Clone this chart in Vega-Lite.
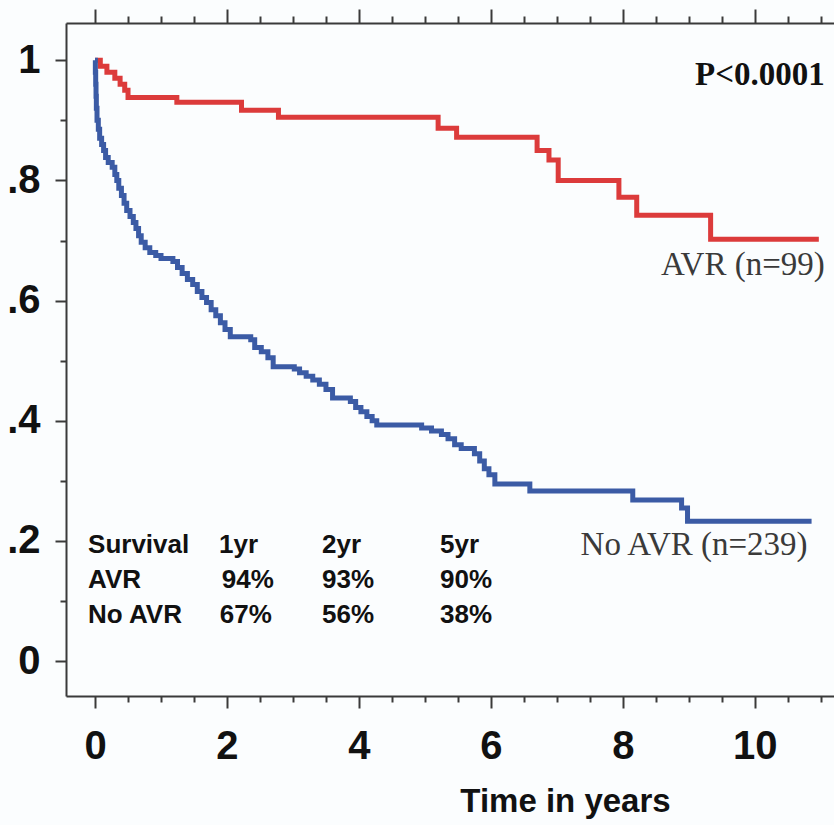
{
  "$schema": "https://vega.github.io/schema/vega-lite/v6.json",
  "width": 768,
  "height": 673,
  "autosize": {"type": "none"},
  "padding": {"left": 66, "top": 23, "right": 0, "bottom": 129},
  "background": "#fbfdfe",
  "config": {
    "view": {"stroke": null},
    "axis": {
      "grid": false,
      "domainColor": "#3a3a3a",
      "domainWidth": 2,
      "tickColor": "#3a3a3a",
      "tickWidth": 2,
      "labelFont": "Liberation Sans Narrow, Arial Narrow, Liberation Sans, sans-serif",
      "labelFontWeight": "bold",
      "labelColor": "#111111",
      "titleFont": "Liberation Sans Narrow, Arial Narrow, Liberation Sans, sans-serif",
      "titleFontWeight": "bold",
      "titleColor": "#111111"
    }
  },
  "datasets": {
    "curves": [
      {"group": "AVR", "t": 0, "s": 1.0},
      {"group": "AVR", "t": 0.08, "s": 0.99},
      {"group": "AVR", "t": 0.18, "s": 0.98},
      {"group": "AVR", "t": 0.3, "s": 0.97},
      {"group": "AVR", "t": 0.38, "s": 0.96},
      {"group": "AVR", "t": 0.45, "s": 0.95},
      {"group": "AVR", "t": 0.5, "s": 0.938},
      {"group": "AVR", "t": 1.24, "s": 0.93},
      {"group": "AVR", "t": 2.22, "s": 0.917},
      {"group": "AVR", "t": 2.78, "s": 0.905},
      {"group": "AVR", "t": 5.2, "s": 0.887},
      {"group": "AVR", "t": 5.48, "s": 0.872},
      {"group": "AVR", "t": 6.7, "s": 0.85},
      {"group": "AVR", "t": 6.88, "s": 0.834},
      {"group": "AVR", "t": 7.02, "s": 0.8},
      {"group": "AVR", "t": 7.94, "s": 0.772},
      {"group": "AVR", "t": 8.21, "s": 0.742},
      {"group": "AVR", "t": 9.33, "s": 0.702},
      {"group": "AVR", "t": 10.97, "s": 0.702},
      {"group": "No AVR", "t": 0, "s": 1.0},
      {"group": "No AVR", "t": 0.005, "s": 0.98},
      {"group": "No AVR", "t": 0.01, "s": 0.96},
      {"group": "No AVR", "t": 0.015, "s": 0.94},
      {"group": "No AVR", "t": 0.02, "s": 0.92},
      {"group": "No AVR", "t": 0.03, "s": 0.9},
      {"group": "No AVR", "t": 0.05, "s": 0.885},
      {"group": "No AVR", "t": 0.07, "s": 0.87},
      {"group": "No AVR", "t": 0.1, "s": 0.86},
      {"group": "No AVR", "t": 0.13, "s": 0.85},
      {"group": "No AVR", "t": 0.16, "s": 0.838},
      {"group": "No AVR", "t": 0.2, "s": 0.83},
      {"group": "No AVR", "t": 0.26, "s": 0.822},
      {"group": "No AVR", "t": 0.3, "s": 0.81},
      {"group": "No AVR", "t": 0.33, "s": 0.8},
      {"group": "No AVR", "t": 0.36, "s": 0.787},
      {"group": "No AVR", "t": 0.4, "s": 0.775},
      {"group": "No AVR", "t": 0.44, "s": 0.762},
      {"group": "No AVR", "t": 0.48, "s": 0.75},
      {"group": "No AVR", "t": 0.53, "s": 0.74},
      {"group": "No AVR", "t": 0.58, "s": 0.73},
      {"group": "No AVR", "t": 0.62, "s": 0.72},
      {"group": "No AVR", "t": 0.66, "s": 0.708},
      {"group": "No AVR", "t": 0.7, "s": 0.697},
      {"group": "No AVR", "t": 0.76, "s": 0.688},
      {"group": "No AVR", "t": 0.83, "s": 0.68},
      {"group": "No AVR", "t": 0.92, "s": 0.675},
      {"group": "No AVR", "t": 1.0, "s": 0.67},
      {"group": "No AVR", "t": 1.18, "s": 0.665},
      {"group": "No AVR", "t": 1.25, "s": 0.655},
      {"group": "No AVR", "t": 1.32, "s": 0.645},
      {"group": "No AVR", "t": 1.4, "s": 0.635},
      {"group": "No AVR", "t": 1.48, "s": 0.627},
      {"group": "No AVR", "t": 1.55, "s": 0.615},
      {"group": "No AVR", "t": 1.62, "s": 0.605},
      {"group": "No AVR", "t": 1.69, "s": 0.597},
      {"group": "No AVR", "t": 1.76, "s": 0.585},
      {"group": "No AVR", "t": 1.83, "s": 0.575},
      {"group": "No AVR", "t": 1.9, "s": 0.563},
      {"group": "No AVR", "t": 1.97, "s": 0.552},
      {"group": "No AVR", "t": 2.05, "s": 0.54},
      {"group": "No AVR", "t": 2.36, "s": 0.535},
      {"group": "No AVR", "t": 2.42, "s": 0.522},
      {"group": "No AVR", "t": 2.52, "s": 0.515},
      {"group": "No AVR", "t": 2.62, "s": 0.505},
      {"group": "No AVR", "t": 2.7, "s": 0.49},
      {"group": "No AVR", "t": 3.02, "s": 0.486},
      {"group": "No AVR", "t": 3.1, "s": 0.48},
      {"group": "No AVR", "t": 3.2, "s": 0.474},
      {"group": "No AVR", "t": 3.3, "s": 0.468},
      {"group": "No AVR", "t": 3.4, "s": 0.461},
      {"group": "No AVR", "t": 3.5, "s": 0.452},
      {"group": "No AVR", "t": 3.6, "s": 0.438},
      {"group": "No AVR", "t": 3.87, "s": 0.432},
      {"group": "No AVR", "t": 3.95, "s": 0.422},
      {"group": "No AVR", "t": 4.03, "s": 0.415},
      {"group": "No AVR", "t": 4.12, "s": 0.407},
      {"group": "No AVR", "t": 4.2, "s": 0.4},
      {"group": "No AVR", "t": 4.27, "s": 0.393},
      {"group": "No AVR", "t": 4.95, "s": 0.388},
      {"group": "No AVR", "t": 5.1, "s": 0.383},
      {"group": "No AVR", "t": 5.25, "s": 0.377},
      {"group": "No AVR", "t": 5.35, "s": 0.37},
      {"group": "No AVR", "t": 5.45, "s": 0.36},
      {"group": "No AVR", "t": 5.55, "s": 0.354},
      {"group": "No AVR", "t": 5.75, "s": 0.345},
      {"group": "No AVR", "t": 5.83, "s": 0.333},
      {"group": "No AVR", "t": 5.9, "s": 0.32},
      {"group": "No AVR", "t": 5.97, "s": 0.31},
      {"group": "No AVR", "t": 6.06, "s": 0.295},
      {"group": "No AVR", "t": 6.59, "s": 0.283},
      {"group": "No AVR", "t": 8.15, "s": 0.268},
      {"group": "No AVR", "t": 8.89, "s": 0.255},
      {"group": "No AVR", "t": 8.98, "s": 0.233},
      {"group": "No AVR", "t": 10.86, "s": 0.233}
    ],
    "table": [
      {"t": -0.106, "s": 0.193, "text": "Survival"},
      {"t": 1.88, "s": 0.193, "text": "1yr"},
      {"t": 3.44, "s": 0.193, "text": "2yr"},
      {"t": 5.23, "s": 0.193, "text": "5yr"},
      {"t": -0.106, "s": 0.135, "text": "AVR"},
      {"t": 1.92, "s": 0.135, "text": "94%"},
      {"t": 3.44, "s": 0.135, "text": "93%"},
      {"t": 5.23, "s": 0.135, "text": "90%"},
      {"t": -0.106, "s": 0.077, "text": "No AVR"},
      {"t": 1.89, "s": 0.077, "text": "67%"},
      {"t": 3.44, "s": 0.077, "text": "56%"},
      {"t": 5.23, "s": 0.077, "text": "38%"}
    ],
    "pval": [
      {"t": 11.06, "s": 0.975, "text": "P<0.0001"}
    ],
    "names": [
      {"t": 11.06, "s": 0.659, "text": "AVR (n=99)"},
      {"t": 10.8, "s": 0.193, "text": "No AVR (n=239)"}
    ]
  },
  "layer": [
    {
      "data": {"name": "curves"},
      "mark": {"type": "line", "interpolate": "step-after", "strokeWidth": 5, "clip": true},
      "encoding": {
        "x": {
          "field": "t", "type": "quantitative",
          "scale": {"domain": [-0.44, 11.2], "nice": false, "zero": false},
          "axis": {
            "orient": "bottom",
            "values": [0, 0.5, 1, 1.5, 2, 2.5, 3, 3.5, 4, 4.5, 5, 5.5, 6, 6.5, 7, 7.5, 8, 8.5, 9, 9.5, 10, 10.5, 11],
            "tickSize": {"condition": {"test": "datum.value % 2 === 0", "value": 12}, "value": 6},
            "labelExpr": "datum.value % 2 === 0 ? format(datum.value, 'd') : ''",
            "labelFontSize": 40,
            "labelPadding": 18,
            "labelFlush": false,
            "labelOverlap": false,
            "title": "Time in years",
            "titleFontSize": 33,
            "titleAnchor": "start",
            "titleAlign": "center",
            "titleX": 499,
            "titleY": 115,
            "titleBaseline": "alphabetic"
          }
        },
        "y": {
          "field": "s", "type": "quantitative",
          "scale": {"domain": [-0.058, 1.062], "nice": false, "zero": false},
          "axis": {
            "values": [0, 0.1, 0.2, 0.3, 0.4, 0.5, 0.6, 0.7, 0.8, 0.9, 1],
            "format": ".1f",
            "tickSize": {"condition": {"test": "round(datum.value * 10) % 2 === 0", "value": 11}, "value": 6},
            "labelExpr": "datum.label == '0.0' ? '0' : datum.label == '1.0' ? '1' : (indexof(['0.2','0.4','0.6','0.8'], datum.label) >= 0 ? slice(datum.label, 1) : '')",
            "labelFontSize": 40,
            "labelPadding": 15,
            "labelFlush": false,
            "labelOverlap": false,
            "title": null
          }
        },
        "color": {
          "field": "group", "type": "nominal",
          "scale": {"domain": ["AVR", "No AVR"], "range": ["#dc3b3b", "#3b5ba5"]},
          "legend": null
        }
      }
    },
    {
      "data": {"name": "table"},
      "mark": {
        "type": "text", "align": "left", "baseline": "middle",
        "font": "Liberation Sans Narrow, Arial Narrow, Liberation Sans, sans-serif",
        "fontWeight": "bold", "fontSize": 26, "color": "#111111"
      },
      "encoding": {
        "x": {
          "field": "t", "type": "quantitative",
          "axis": {
            "orient": "top",
            "values": [0, 0.5, 1, 1.5, 2, 2.5, 3, 3.5, 4, 4.5, 5, 5.5, 6, 6.5, 7, 7.5, 8, 8.5, 9, 9.5, 10, 10.5, 11],
            "tickSize": {"condition": {"test": "datum.value % 2 === 0", "value": 14}, "value": 7},
            "labels": false,
            "title": null
          }
        },
        "y": {"field": "s", "type": "quantitative"},
        "text": {"field": "text"}
      }
    },
    {
      "data": {"name": "pval"},
      "mark": {
        "type": "text", "align": "right", "baseline": "middle",
        "font": "Liberation Serif, Times New Roman, serif",
        "fontWeight": "bold", "fontSize": 33, "color": "#111111"
      },
      "encoding": {
        "x": {"field": "t", "type": "quantitative", "axis": null},
        "y": {"field": "s", "type": "quantitative"},
        "text": {"field": "text"}
      }
    },
    {
      "data": {"name": "names"},
      "mark": {
        "type": "text", "align": "right", "baseline": "middle",
        "font": "Liberation Serif, Times New Roman, serif",
        "fontSize": 33, "color": "#3a3a3a"
      },
      "encoding": {
        "x": {"field": "t", "type": "quantitative", "axis": null},
        "y": {"field": "s", "type": "quantitative"},
        "text": {"field": "text"}
      }
    }
  ],
  "resolve": {"axis": {"x": "independent"}}
}
